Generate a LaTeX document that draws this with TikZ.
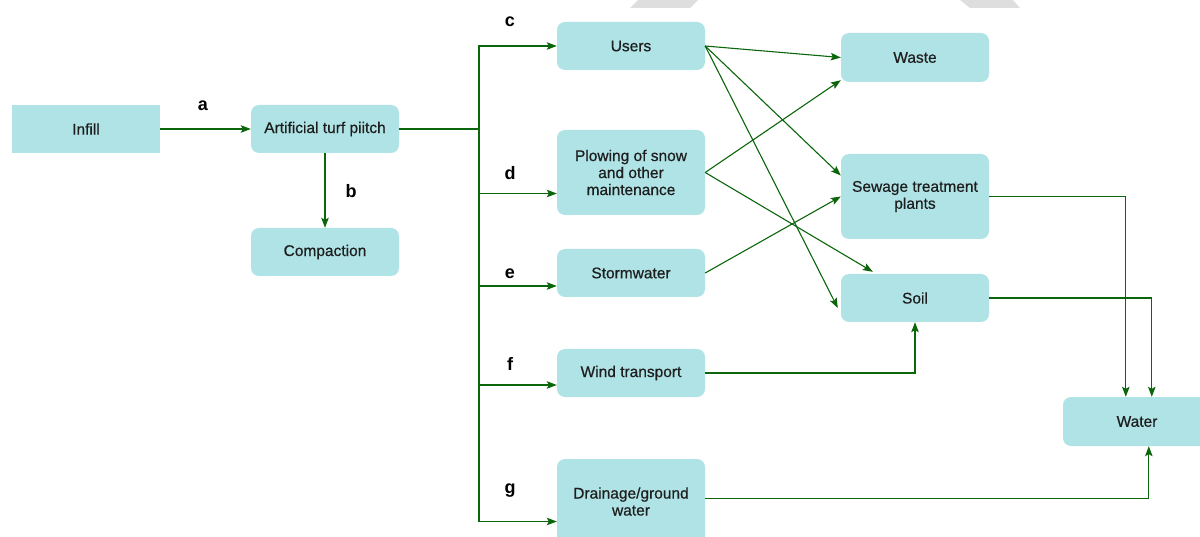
\documentclass[tikz,border=0pt]{standalone}
\usepackage{fontspec}
\setmainfont{Liberation Sans}
\newfontfamily\stagefont{Liberation Sans}[FakeBold=0.6]
\usetikzlibrary{arrows.meta,calc}
\definecolor{boxfill}{HTML}{B0E3E6}
\definecolor{flow}{HTML}{0B650B}
\definecolor{ink}{HTML}{1E1E1E}
\definecolor{edgegrey}{HTML}{DEDEDE}
\tikzset{
  stage/.style={rectangle, rounded corners=8pt, fill=boxfill, minimum width=148pt,
    minimum height=48pt, inner sep=0pt, align=center, text=ink,
    font=\stagefont\fontsize{15.5}{17}\selectfont},
  tall/.style={minimum height=85pt},
  flowline/.style={draw=flow, line width=1.1pt, -{Stealth[length=10pt,width=7.5pt,inset=2pt]}},
  plainline/.style={draw=flow, line width=1.1pt},
  tag/.style={font=\bfseries\fontsize{18}{18}\selectfont, text=black, inner sep=0pt}
}
\begin{document}
\begin{tikzpicture}[x=1pt,y=-1pt]
\useasboundingbox (0,0) rectangle (1200,537);
\clip (0,0) rectangle (1200,537);

% light grey marks along the top edge
\fill[edgegrey] (638,0) -- (698,0) -- (690,8) -- (630,8) -- cycle;
\fill[edgegrey] (960,0) -- (1013,0) -- (1020,8) -- (970,8) -- cycle;

% stages
\node[stage, rounded corners=0pt] (infill) at (86,129) {Infill};
\node[stage] (turf) at (325,129) {Artificial turf piitch};
\node[stage] (comp) at (325,252) {Compaction};

\node[stage] (users) at (631,46) {Users};
\node[stage, tall] (plow) at (631,172.5) {Plowing of snow\\and other\\maintenance};
\node[stage] (storm) at (631,273) {Stormwater};
\node[stage] (wind) at (631,373) {Wind transport};
\node[stage, tall] (drain) at (631,501.5) {Drainage/ground\\water};

\node[stage, minimum height=49pt] (waste) at (915,57.5) {Waste};
\node[stage, tall] (sewage) at (915,196.5) {Sewage treatment\\plants};
\node[stage] (soil) at (915,298) {Soil};
\node[stage, minimum height=49pt] (water) at (1137,421.5) {Water};

% infill to pitch, pitch to compaction
\draw[flowline] (infill.east) -- (turf.west);
\draw[flowline] (turf.south) -- (comp.north);

% distribution trunk from the pitch
\coordinate (hub) at (479,129);
\draw[plainline] (turf.east) -- (hub);
\draw[flowline] (hub) |- (users.west);
\draw[flowline] (hub) |- ($(plow.west)+(0,21)$);
\draw[flowline] (hub) |- ($(storm.west)+(0,13)$);
\draw[flowline] (hub) |- ($(wind.west)+(0,12)$);
\draw[flowline] (hub) |- ($(drain.west)+(0,20)$);

% fates
\draw[flowline] (users.east) -- (waste.west);
\draw[flowline] (users.east) -- ($(sewage.west)+(0,-21)$);
\draw[flowline] (users.east) -- ($(soil.west)+(-3,10)$);
\draw[flowline] (plow.east) -- ($(waste.south west)+(0,-2)$);
\draw[flowline] (plow.east) -- ($(soil.north west)+(32,-2)$);
\draw[flowline] (storm.east) -- (sewage.west);
\draw[flowline] (wind.east) -| (soil.south);

% to water
\draw[flowline] (sewage.east) -| ($(water.north west)+(63,0)$);
\draw[flowline] (soil.east) -| ($(water.north west)+(89,0)$);
\draw[flowline] ($(drain.east)+(0,-3)$) -| ($(water.south west)+(86,0)$);

% pathway letters
\node[tag] (la) at (203,106) {a};
\node[tag] (lb) at (351,191) {b};
\node[tag] (lc) at (510,22) {c};
\node[tag] (ld) at (510,173) {d};
\node[tag] (le) at (510,274) {e};
\node[tag] (lf) at (510,364) {f};
\node[tag] (lg) at (510,491) {g};
\end{tikzpicture}
\end{document}
